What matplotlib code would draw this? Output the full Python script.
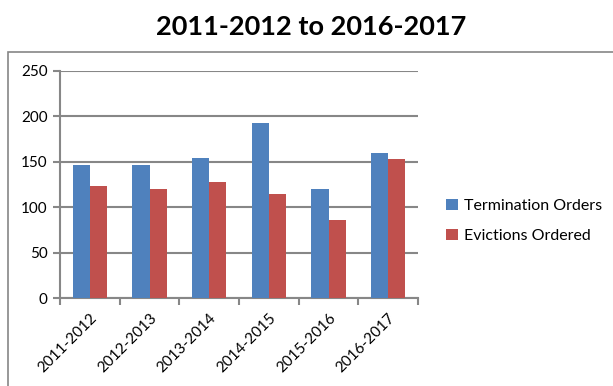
import matplotlib
matplotlib.use("Agg")
import matplotlib.pyplot as plt
import numpy as np
from matplotlib.patches import Rectangle

categories = ["2011-2012", "2012-2013", "2013-2014", "2014-2015", "2015-2016", "2016-2017"]
termination_orders = [147, 146, 154, 193, 120, 160]
evictions_ordered = [123, 120, 128, 114, 86, 153]
y_ticks = [0, 50, 100, 150, 200, 250]

plt.rcParams['font.family'] = ['Lato', 'DejaVu Sans']

W, H = 613, 386
fig = plt.figure(figsize=(W/100, H/100), dpi=100)

# outer chart frame (cut off at right and bottom)
fig.patches.append(Rectangle((8/W, -0.05), 1.1, 1.05 - 52/H, transform=fig.transFigure,
                             fill=False, edgecolor='#868686', linewidth=1.2))

ax = fig.add_axes([60/W, 1 - 298/H, (418 - 60)/W, (298 - 71)/H])

x = np.arange(len(categories))
bw = 0.29
blue = '#4F81BD'
red = '#C0504D'
ax.bar(x - bw/2, termination_orders, bw, color=blue, label='Termination Orders', zorder=3)
ax.bar(x + bw/2, evictions_ordered, bw, color=red, label='Evictions Ordered', zorder=3)

ax.set_xlim(-0.5, len(categories) - 0.5)
ax.set_ylim(0, 250)
ax.set_yticks(y_ticks)
ax.set_yticklabels([str(v) for v in y_ticks], fontsize=11)
ax.yaxis.grid(True, color='#878787', linewidth=1.5, zorder=0)
ax.set_axisbelow(True)

ax.set_xticks(np.arange(len(categories) + 1) - 0.5)
ax.set_xticklabels([])
ax.set_xticks(x, minor=True)
ax.set_xticklabels(categories, minor=True, rotation=45, ha='right', rotation_mode='anchor', fontsize=11)
ax.tick_params(axis='x', which='minor', length=0, pad=9)
ax.tick_params(axis='x', which='major', length=5, color='#878787', width=1.5, direction='out')
ax.tick_params(axis='y', length=5, color='#878787', width=1.5, direction='out', pad=4)

for s in ['top', 'right']:
    ax.spines[s].set_visible(False)
for s in ['left', 'bottom']:
    ax.spines[s].set_color('#878787')
    ax.spines[s].set_linewidth(1.5)

fig.text(311/W, 1 - 27/H, "2011-2012 to 2016-2017", ha='center', va='center',
         fontsize=19.5, fontweight='bold')

fig.legend(loc='center left', bbox_to_anchor=(432/W, 1 - 221/H), frameon=False,
           fontsize=11.5, handlelength=0.7, handleheight=0.7, handletextpad=0.4,
           labelspacing=1.0)

fig.savefig("out.png", dpi=100)
